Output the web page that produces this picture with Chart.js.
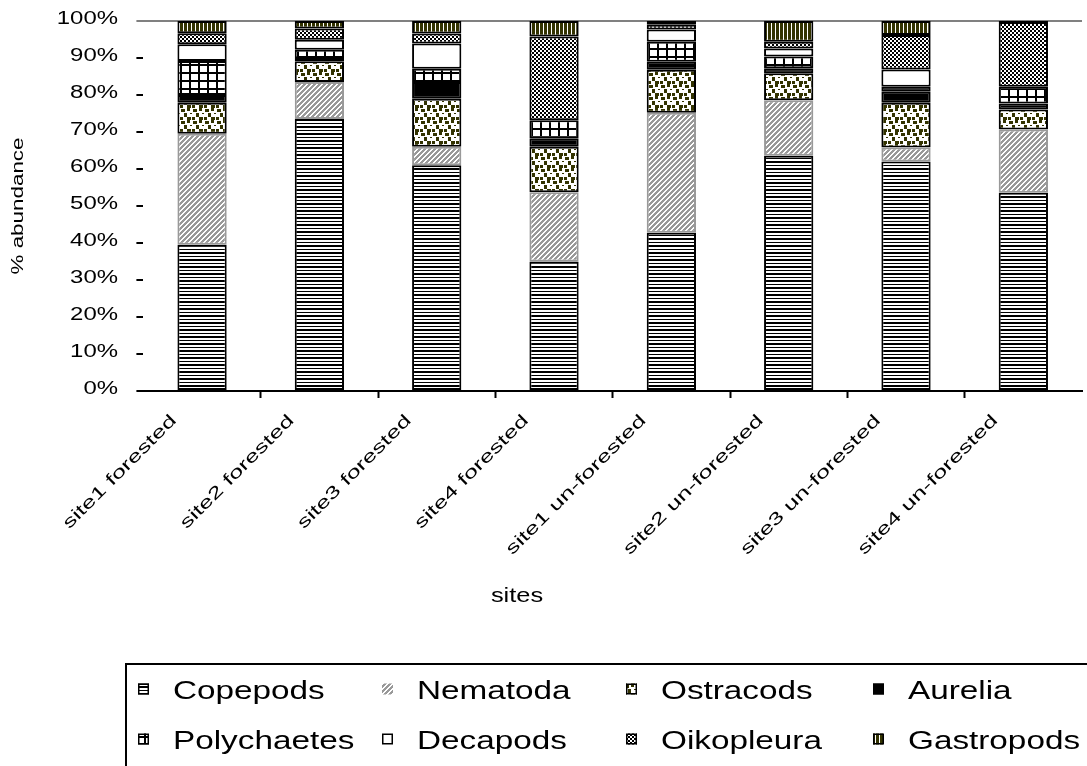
<!DOCTYPE html>
<html>
<head>
<meta charset="utf-8">
<script src="https://cdn.jsdelivr.net/npm/chart.js@4.4.1/dist/chart.umd.min.js"></script>
<style>
  html, body { margin: 0; padding: 0; background: #fff; }
  #wrap { width: 1087px; height: 766px; position: relative; }
</style>
</head>
<body>
<div id="wrap"><canvas id="c"></canvas></div>
<script>
// Sampling sites (categories)
const sites = ['site1 forested', 'site2 forested', 'site3 forested', 'site4 forested',
               'site1 un-forested', 'site2 un-forested', 'site3 un-forested', 'site4 un-forested'];

// Percentage abundance of each taxon per site (stacked bottom to top)
const copepods    = [39.5, 73.5, 61.0, 35.0, 42.8, 63.6, 62.0, 53.6];
const nematoda    = [30.0, 10.0,  5.0, 18.7, 32.4, 15.0,  3.8, 17.1];
const ostracods   = [ 8.4,  5.6, 13.0, 12.3, 11.6,  7.3, 12.1,  5.4];
const aurelia     = [ 2.1,  0.6,  4.5,  2.3,  2.2,  1.3,  3.0,  1.6];
const polychaetes = [ 9.2,  2.5,  3.6,  4.9,  5.4,  3.2,  1.3,  4.5];
const decapods    = [ 4.5,  2.7,  6.8,  0.0,  3.3,  2.2,  4.7,  0.0];
const oikopleura  = [ 3.0,  3.1,  2.7, 22.6,  1.3,  1.8,  9.3, 17.5];
const gastropods  = [ 3.3,  2.0,  3.4,  4.2,  1.0,  5.6,  3.8,  0.3];

// Y axis tick labels
const yTickValues = [0, 10, 20, 30, 40, 50, 60, 70, 80, 90, 100];
const yTickLabels = ['0%', '10%', '20%', '30%', '40%', '50%', '60%', '70%', '80%', '90%', '100%'];

const FONT = '"Liberation Sans", Arial, sans-serif';
const OLIVE = '#333300';

const canvas = document.getElementById('c');
const mainCtx = canvas.getContext('2d');

// Build a repeating fill from a small tile
function makePattern(w, h, paint) {
  const tile = document.createElement('canvas');
  tile.width = w; tile.height = h;
  const g = tile.getContext('2d');
  paint(g, w, h);
  return mainCtx.createPattern(tile, 'repeat');
}
function px(g, color, x, y, w = 1, h = 1) { g.fillStyle = color; g.fillRect(x, y, w, h); }

const fills = {
  copepods: makePattern(4, 7, (g, w, h) => {
    px(g, '#fff', 0, 0, w, h);
    [0, 1, 4].forEach(r => px(g, '#000', 0, r, w, 1));
  }),
  nematoda: makePattern(5, 5, (g, w, h) => {
    px(g, '#999999', 0, 0, w, h);
    for (let y = 0; y < h; y++) for (let x = 0; x < w; x++)
      if ((x + y) % 5 < 2) px(g, '#fff', x, y);
  }),
  ostracods: makePattern(12, 12, (g, w, h) => {
    px(g, '#fff', 0, 0, w, h);
    [[1, 1, 4, 3], [7, 0, 3, 3], [4, 5, 3, 4], [0, 9, 3, 3], [7, 9, 4, 3], [10, 5, 2, 1]]
      .forEach(r => px(g, OLIVE, ...r));
  }),
  aurelia: '#000000',
  polychaetes: makePattern(9, 8, (g, w, h) => {
    px(g, '#fff', 0, 0, w, h);
    px(g, '#000', 0, 0, 2, h);
    px(g, '#000', 0, 0, w, 2);
  }),
  decapods: '#ffffff',
  oikopleura: makePattern(4, 4, (g, w, h) => {
    px(g, '#fff', 0, 0, w, h);
    px(g, '#000', 0, 0, 2, 2);
    px(g, '#000', 2, 2, 2, 2);
  }),
  gastropods: makePattern(4, 1, (g, w, h) => {
    px(g, '#fff', 0, 0, w, h);
    px(g, OLIVE, 0, 0, 3, 1);
  })
};

const series = [
  { label: 'Copepods',    data: copepods,    fill: fills.copepods,    border: '#000' },
  { label: 'Nematoda',    data: nematoda,    fill: fills.nematoda,    border: '#999999' },
  { label: 'Ostracods',   data: ostracods,   fill: fills.ostracods,   border: '#000' },
  { label: 'Aurelia',     data: aurelia,     fill: fills.aurelia,     border: '#000' },
  { label: 'Polychaetes', data: polychaetes, fill: fills.polychaetes, border: '#000' },
  { label: 'Decapods',    data: decapods,    fill: fills.decapods,    border: '#000' },
  { label: 'Oikopleura',  data: oikopleura,  fill: fills.oikopleura,  border: '#000' },
  { label: 'Gastropods',  data: gastropods,  fill: fills.gastropods,  border: '#000' }
];

// Draw wide text (stretched along its baseline)
function wideText(ctx, s, x, y, o) {
  ctx.save();
  ctx.translate(x, y);
  if (o.rot) ctx.rotate(o.rot);
  ctx.scale(o.sx || 1, 1);
  ctx.font = o.size + 'px ' + FONT;
  ctx.fillStyle = '#000';
  ctx.textAlign = o.align || 'left';
  ctx.textBaseline = o.base || 'alphabetic';
  ctx.fillText(s, 0, 0);
  ctx.restore();
}

// Axis labels, titles and the boxed legend
const annotate = {
  id: 'annotate',
  afterDraw(chart) {
    const ctx = chart.ctx;
    const xs = chart.scales.x, ys = chart.scales.y;
    const area = chart.chartArea;

    yTickValues.forEach((v, i) => {
      wideText(ctx, yTickLabels[i], 118, ys.getPixelForValue(v) - 1.5,
               { size: 18, sx: 1.33, align: 'right', base: 'middle' });
    });

    sites.forEach((s, i) => {
      const cx = xs.getPixelForValue(i);
      wideText(ctx, s, cx - 28, area.bottom + 27,
               { rot: -Math.PI / 4, size: 17, sx: 1.5, align: 'right', base: 'middle' });
    });

    wideText(ctx, '% abundance', 19, 206,
             { rot: -Math.PI / 2, size: 16, sx: 1.4, align: 'center', base: 'middle' });
    wideText(ctx, 'sites', 517, 602, { size: 20, sx: 1.27, align: 'center' });

    // Legend frame
    ctx.save();
    ctx.strokeStyle = '#000';
    ctx.lineWidth = 2;
    ctx.strokeRect(126, 664, 1000, 200);
    ctx.restore();

    const cols = [138, 382, 626, 873];
    const rows = [689, 739];
    chart.data.datasets.forEach((ds, i) => {
      const x = cols[i % 4], yc = rows[Math.floor(i / 4)];
      ctx.save();
      ctx.fillStyle = ds.backgroundColor;
      ctx.fillRect(x, yc - 5.5, 11, 11);
      if (ds.borderColor !== '#999999') {
        ctx.strokeStyle = '#000';
        ctx.lineWidth = 1.5;
        ctx.strokeRect(x + 0.75, yc - 4.75, 9.5, 9.5);
      }
      ctx.restore();
      wideText(ctx, ds.label, x + 35, yc + 10, { size: 26, sx: 1.28 });
    });
  }
};

new Chart(canvas, {
  type: 'bar',
  data: {
    labels: sites,
    datasets: series.map(s => ({
      label: s.label,
      data: s.data,
      backgroundColor: s.fill,
      borderColor: s.border,
      borderWidth: 2,
      borderSkipped: false,
      barPercentage: 0.42,
      categoryPercentage: 1.0
    }))
  },
  options: {
    responsive: true,
    maintainAspectRatio: false,
    animation: false,
    devicePixelRatio: 1,
    layout: { padding: { left: 136.4, top: 21, right: 5, bottom: 368 } },
    plugins: { legend: { display: false }, tooltip: { enabled: false } },
    scales: {
      x: {
        stacked: true,
        ticks: { display: false },
        grid: {
          offset: true,
          drawOnChartArea: false,
          tickLength: 7,
          tickWidth: 2,
          tickColor: c => (c.type !== 'tick' || c.index === 0) ? 'rgba(0,0,0,0)' : '#000'
        },
        border: { display: true, color: '#000', width: 2 }
      },
      y: {
        stacked: true,
        min: 0,
        max: 100,
        ticks: { display: false, stepSize: 10 },
        grid: {
          drawOnChartArea: true,
          lineWidth: 2,
          color: c => (c.tick && c.tick.value === 100) ? '#808080' : 'rgba(0,0,0,0)',
          tickLength: 7,
          tickWidth: 2,
          tickColor: c => (c.tick && c.tick.value === 100) ? '#808080' : '#000'
        },
        border: { display: false }
      }
    }
  },
  plugins: [annotate]
});
</script>
</body>
</html>
